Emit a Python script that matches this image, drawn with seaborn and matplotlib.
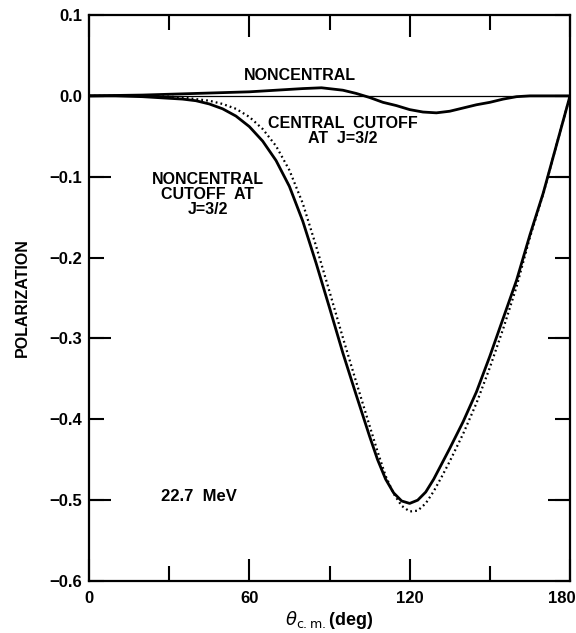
import numpy as np
import pandas as pd
import matplotlib
matplotlib.use("Agg")
import matplotlib.pyplot as plt
import matplotlib.transforms as mtransforms
import seaborn as sns

# ---- data ----
theta_nc = [0, 10, 20, 30, 40, 50, 60, 70, 80, 87, 95, 100, 105, 110, 115, 120,
            125, 130, 135, 140, 145, 150, 155, 160, 165, 170, 180]
pol_nc = [0.0, 0.0005, 0.001, 0.002, 0.003, 0.004, 0.005, 0.007, 0.009, 0.010,
          0.007, 0.003, -0.002, -0.008, -0.012, -0.017, -0.020, -0.021, -0.019,
          -0.015, -0.011, -0.008, -0.004, -0.001, 0.0, 0.0, 0.0]

theta_cut = [0, 10, 20, 30, 35, 40, 45, 50, 55, 60, 65, 70, 75, 80, 85, 90, 95,
             100, 105, 108, 111, 114, 117, 120, 123, 126, 129, 132, 135, 140,
             145, 150, 155, 160, 165, 170, 175, 180]
pol_noncentral_cut = [0.0, 0.0, -0.001, -0.003, -0.004, -0.006, -0.010, -0.016,
                      -0.025, -0.038, -0.056, -0.080, -0.112, -0.155, -0.207,
                      -0.262, -0.318, -0.370, -0.421, -0.450, -0.474, -0.491,
                      -0.501, -0.504, -0.500, -0.490, -0.474, -0.455, -0.436,
                      -0.403, -0.366, -0.322, -0.275, -0.228, -0.172, -0.120,
                      -0.060, 0.0]
pol_central_cut = [0.0, 0.0, 0.0, -0.001, -0.002, -0.004, -0.006, -0.010,
                   -0.016, -0.026, -0.041, -0.062, -0.092, -0.133, -0.186,
                   -0.242, -0.299, -0.354, -0.408, -0.440, -0.470, -0.492,
                   -0.507, -0.514, -0.513, -0.504, -0.489, -0.471, -0.452,
                   -0.418, -0.380, -0.336, -0.288, -0.236, -0.175, -0.121,
                   -0.060, 0.0]

xticks_major = [0, 60, 120, 180]
xticks_minor = [30, 90, 150]
yticks_all = [0.1, 0.0, -0.1, -0.2, -0.3, -0.4, -0.5, -0.6]
yticks_long = [-0.1, -0.3, -0.5]

df_nc = pd.DataFrame({"theta": theta_nc, "pol": pol_nc})
df_cut = pd.DataFrame({"theta": theta_cut, "noncentral_cut": pol_noncentral_cut,
                       "central_cut": pol_central_cut})

sns.set_theme(style="ticks")
plt.rcParams["font.family"] = ["Liberation Sans", "DejaVu Sans"]
plt.rcParams["mathtext.fontset"] = "dejavusans"
for k in ["text.color", "axes.labelcolor", "xtick.color", "ytick.color",
          "axes.edgecolor"]:
    plt.rcParams[k] = "black"

fig = plt.figure(figsize=(5.76, 6.33), dpi=100)
ax = fig.add_axes([0.1545, 0.0821, 0.8351, 0.8942])

ax.axhline(0.0, color="black", lw=0.9, zorder=1)
sns.lineplot(data=df_nc, x="theta", y="pol", ax=ax, color="black", lw=2.0,
             estimator=None, sort=False)
sns.lineplot(data=df_cut, x="theta", y="noncentral_cut", ax=ax, color="black",
             lw=2.0, estimator=None, sort=False)
sns.lineplot(data=df_cut, x="theta", y="central_cut", ax=ax, color="black",
             lw=1.6, estimator=None, sort=False, linestyle=(0, (0.8, 1.4)))

ax.set_xlim(0, 180)
ax.set_ylim(-0.6, 0.1)

ax.set_xticks(xticks_major)
ax.set_xticklabels([str(v) for v in xticks_major], fontweight="bold", fontsize=12)
ax.set_xticks(xticks_minor, minor=True)
ax.set_yticks(yticks_all)
ax.set_yticklabels(["0.1", "0.0", "\u22120.1", "\u22120.2", "\u22120.3",
                    "\u22120.4", "\u22120.5", "\u22120.6"],
                   fontweight="bold", fontsize=12)
ax.yaxis.remove_overlapping_locs = False
ax.set_yticks(yticks_long, minor=True)

ax.tick_params(axis="x", which="major", direction="in", length=16, width=1.5,
               top=True, bottom=True, pad=7, colors="black")
ax.tick_params(axis="x", which="minor", direction="in", length=11, width=1.5,
               top=True, bottom=True, colors="black")
ax.tick_params(axis="y", which="major", direction="in", length=11, width=1.5,
               left=True, right=True, pad=5, colors="black")
ax.tick_params(axis="y", which="minor", direction="in", length=16, width=1.5,
               left=True, right=True, colors="black")
for s in ax.spines.values():
    s.set_visible(True)
    s.set_linewidth(1.6)
    s.set_color("black")

# nudge the last x tick label left so it stays inside the figure
last = ax.get_xticklabels()[-1]
last.set_transform(last.get_transform() +
                   mtransforms.ScaledTranslation(-6 / 72, 0, fig.dpi_scale_trans))

ax.set_xlabel(r"$\theta_{\rm c.m.}$(deg)", fontsize=13, fontweight="bold",
              labelpad=2, color="black")
ax.set_ylabel("POLARIZATION", fontsize=11.5, fontweight="bold", labelpad=14,
              color="black")

tkw = dict(fontsize=11.5, fontweight="bold", ha="center", va="center",
           linespacing=1.0, color="black")
ax.text(79, 0.025, "NONCENTRAL", **tkw)
ax.text(95, -0.043, "CENTRAL  CUTOFF\nAT  J=3/2", **tkw)
ax.text(44.5, -0.122, "NONCENTRAL\nCUTOFF  AT\nJ=3/2", **tkw)
ax.text(27, -0.495, "22.7  MeV", fontsize=12, fontweight="bold",
        ha="left", va="center", color="black")

fig.savefig("out.png", dpi=100, facecolor="white")
